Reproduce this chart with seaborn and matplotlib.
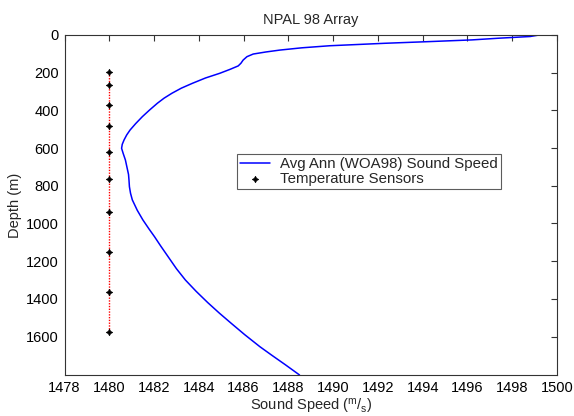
import matplotlib
matplotlib.use("Agg")
import matplotlib.pyplot as plt
import seaborn as sns
import pandas as pd

# Sound speed profile
profile_depth = [0, 8, 17, 26, 35, 44, 57, 68, 80, 90, 101, 115, 133, 150, 164, 182, 203,
                 228, 256, 282, 309, 335, 362, 398, 433, 470, 504, 530, 557, 580, 601, 628,
                 663, 707, 740, 769, 805, 840, 875, 930, 981, 1030, 1070, 1120, 1180, 1240,
                 1300, 1360, 1420, 1476, 1530, 1590, 1654, 1700, 1750, 1804]
profile_speed = [1499.2, 1498.8, 1497.4, 1496.2, 1494.3, 1492.3, 1489.85, 1488.6, 1487.62,
                 1487.0, 1486.43, 1486.15, 1485.98, 1485.88, 1485.76, 1485.4, 1484.94,
                 1484.3, 1483.72, 1483.22, 1482.8, 1482.45, 1482.15, 1481.8, 1481.48,
                 1481.18, 1480.93, 1480.78, 1480.66, 1480.58, 1480.55, 1480.62, 1480.72,
                 1480.8, 1480.86, 1480.88, 1480.9, 1480.95, 1481.03, 1481.25, 1481.5,
                 1481.78, 1482.02, 1482.3, 1482.65, 1483.0, 1483.4, 1483.88, 1484.4,
                 1484.92, 1485.45, 1486.05, 1486.73, 1487.27, 1487.87, 1488.5]

# Temperature sensors
sensor_depth = [198, 267, 371, 481, 622, 764, 941, 1153, 1363, 1577]
sensor_speed = [1480] * len(sensor_depth)

x_ticks = list(range(1478, 1501, 2))
y_ticks = list(range(0, 1601, 200))

sns.set_theme(style="white")
plt.rcParams['font.family'] = ['Liberation Sans', 'DejaVu Sans']
plt.rcParams['mathtext.fontset'] = 'custom'
plt.rcParams['mathtext.rm'] = 'Liberation Sans'
plt.rcParams['mathtext.it'] = 'Liberation Sans'

fig = plt.figure(figsize=(5.74, 4.16), dpi=100)
ax = fig.add_axes([64.5 / 574, 1 - 375 / 416, (557 - 64.5) / 574, (375 - 35) / 416])

df_p = pd.DataFrame({"speed": profile_speed, "depth": profile_depth})
df_s = pd.DataFrame({"speed": sensor_speed, "depth": sensor_depth})

sns.lineplot(data=df_p, x="speed", y="depth", sort=False, estimator=None, color=(0, 0, 1),
             lw=1.1, ax=ax, label="Avg Ann (WOA98) Sound Speed")
sns.lineplot(data=df_s, x="speed", y="depth", sort=False, estimator=None, color="red",
             lw=1.0, linestyle=(0, (1, 1)), ax=ax)
sns.scatterplot(data=df_s, x="speed", y="depth", marker=(4, 1, 0), s=20, color="black",
                edgecolor="black", linewidth=0.6, ax=ax, label="Temperature Sensors", zorder=5)

ax.set_xlim(1478, 1500)
ax.set_ylim(1804, 0)
ax.set_xticks(x_ticks)
ax.set_yticks(y_ticks)
ax.tick_params(direction="in", length=4, width=0.8, color="#333333", labelsize=10.5,
               top=True, right=True, labelcolor="black", pad=4)
for s in ax.spines.values():
    s.set_color("#333333")
    s.set_linewidth(0.8)

ax.set_title("NPAL 98 Array", fontsize=10.5, pad=8)
ax.set_xlabel("Sound Speed ($^{\\mathrm{m}}/_{\\mathrm{s}}$)", fontsize=10.5, labelpad=2)
ax.set_ylabel("Depth (m)", fontsize=10.5, labelpad=3)

leg = ax.legend(loc="upper left", bbox_to_anchor=((237 - 64.5) / (557 - 64.5), 1 - (154 - 35) / 340),
                frameon=True, fancybox=False, edgecolor="#333333", fontsize=10.8,
                borderpad=0.2, labelspacing=0.05, handlelength=2.0, handletextpad=0.7,
                borderaxespad=0)
leg.get_frame().set_linewidth(0.8)

fig.savefig("out.png", dpi=100, facecolor="white")
